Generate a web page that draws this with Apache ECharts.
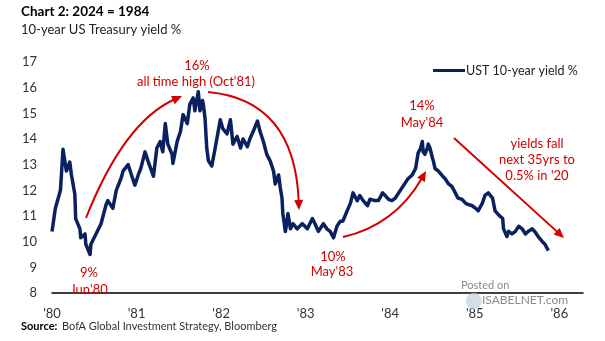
<!DOCTYPE html>
<html>
<head>
<meta charset="utf-8">
<script src="https://cdn.jsdelivr.net/npm/echarts@6/dist/echarts.min.js"></script>
<style>
  html, body { margin: 0; padding: 0; background: #fff; }
  #chart { width: 605px; height: 341px; }
</style>
</head>
<body>
<div id="chart"></div>
<script>
// 10-year US Treasury yield, 1980 to late 1985 (time as fractional years)
const years = [
  1980.00, 1980.04, 1980.10, 1980.13, 1980.17, 1980.21, 1980.23, 1980.27, 1980.28, 1980.33,
  1980.34, 1980.39, 1980.40, 1980.45, 1980.46, 1980.52, 1980.58, 1980.64, 1980.66, 1980.72,
  1980.76, 1980.82, 1980.84, 1980.90, 1980.94, 1980.98, 1981.02, 1981.05, 1981.10, 1981.14,
  1981.20, 1981.24, 1981.28, 1981.31, 1981.34, 1981.37, 1981.42, 1981.43, 1981.48, 1981.52,
  1981.55, 1981.60, 1981.63, 1981.67, 1981.69, 1981.73, 1981.75, 1981.78, 1981.79, 1981.81,
  1981.83, 1981.85, 1981.89, 1981.93, 1981.99, 1982.02, 1982.07, 1982.11, 1982.14, 1982.19,
  1982.23, 1982.26, 1982.31, 1982.34, 1982.38, 1982.43, 1982.46, 1982.50, 1982.54, 1982.58,
  1982.62, 1982.64, 1982.68, 1982.70, 1982.72, 1982.73, 1982.76, 1982.78, 1982.79, 1982.82,
  1982.85, 1982.90, 1982.96, 1983.02, 1983.08, 1983.11, 1983.15, 1983.21, 1983.25, 1983.29,
  1983.33, 1983.37, 1983.41, 1983.44, 1983.49, 1983.53, 1983.56, 1983.61, 1983.64, 1983.68,
  1983.73, 1983.76, 1983.82, 1983.86, 1983.91, 1983.94, 1983.98, 1984.02, 1984.06, 1984.10,
  1984.14, 1984.18, 1984.21, 1984.26, 1984.30, 1984.32, 1984.33, 1984.36, 1984.38, 1984.39,
  1984.41, 1984.44, 1984.45, 1984.47, 1984.50, 1984.51, 1984.53, 1984.57, 1984.62, 1984.65,
  1984.69, 1984.73, 1984.77, 1984.80, 1984.85, 1984.89, 1984.92, 1984.97, 1985.01, 1985.04,
  1985.09, 1985.12, 1985.16, 1985.21, 1985.24, 1985.28, 1985.33, 1985.34, 1985.38, 1985.40,
  1985.44, 1985.48, 1985.52, 1985.56, 1985.60, 1985.63, 1985.68, 1985.72, 1985.75, 1985.80,
  1985.83, 1985.87
];
const yields = [
  10.40, 11.30, 12.00, 13.60, 12.75, 13.10, 12.60, 11.85, 10.90, 10.50,
  10.15, 10.30, 9.90, 9.50, 9.90, 10.30, 10.70, 11.45, 11.60, 11.30,
  12.00, 12.50, 12.75, 13.00, 12.60, 12.20, 12.60, 12.85, 13.50, 13.10,
  12.55, 13.65, 13.90, 13.50, 14.60, 13.80, 13.40, 13.05, 13.90, 14.30,
  14.95, 14.60, 15.35, 15.60, 15.10, 15.84, 15.10, 15.50, 15.35, 14.80,
  13.65, 13.15, 12.95, 13.65, 14.75, 14.40, 14.20, 14.75, 13.80, 14.10,
  13.65, 14.00, 13.70, 14.00, 14.30, 14.70, 14.30, 13.90, 13.40, 13.15,
  12.75, 12.25, 12.60, 12.10, 11.70, 11.10, 10.40, 10.80, 11.10, 10.50,
  10.70, 10.50, 10.70, 10.50, 10.90, 10.70, 10.40, 10.70, 10.50, 10.40,
  10.15, 10.60, 10.80, 10.80, 11.20, 11.50, 11.90, 11.60, 11.80, 11.60,
  11.40, 11.65, 11.60, 11.60, 11.90, 11.80, 11.65, 11.60, 11.70, 11.90,
  12.10, 12.30, 12.45, 12.60, 12.85, 13.25, 13.45, 13.65, 13.90, 13.50,
  13.40, 13.65, 13.80, 13.65, 13.25, 13.15, 12.85, 12.75, 12.55, 12.45,
  12.25, 12.15, 11.90, 11.70, 11.65, 11.50, 11.45, 11.40, 11.30, 11.20,
  11.50, 11.80, 11.90, 11.70, 11.20, 11.05, 10.90, 10.50, 10.20, 10.40,
  10.30, 10.40, 10.60, 10.50, 10.30, 10.40, 10.50, 10.35, 10.20, 10.00,
  9.90, 9.65
];
const seriesName = 'UST 10-year yield %';
const yMin = 8, yMax = 17;
const xMin = 1980, xMax = 1986.28;

const NAVY = '#0a2061';
const RED = '#d40000';
const FONT = 'Lato, "Open Sans", sans-serif';

const chart = echarts.init(document.getElementById('chart'), null, { renderer: 'canvas' });

// quadratic curve with a filled head at its end point
function arrow(p0, c, p2) {
  const dx = p2[0] - c[0], dy = p2[1] - c[1];
  const len = Math.hypot(dx, dy);
  const ux = dx / len, uy = dy / len;
  const L = 10, W = 4.5;
  const bx = p2[0] - ux * L, by = p2[1] - uy * L;
  return [
    {
      type: 'bezierCurve', z: 50,
      shape: { x1: p0[0], y1: p0[1], cpx1: c[0], cpy1: c[1], x2: bx + ux * 2, y2: by + uy * 2 },
      style: { stroke: RED, lineWidth: 2, fill: null }
    },
    {
      type: 'polygon', z: 50,
      shape: { points: [p2, [bx - uy * W, by + ux * W], [bx + uy * W, by - ux * W]] },
      style: { fill: RED }
    }
  ];
}

function label(text, x, y, opts) {
  return {
    type: 'text', z: 60, x: x, y: y,
    style: Object.assign({
      text: text, fill: RED, font: '13px ' + FONT,
      textAlign: 'center', textVerticalAlign: 'middle'
    }, opts || {})
  };
}

const graphics = [].concat(
  arrow([86, 218], [124, 122], [182, 96]),
  arrow([208, 92], [295, 100], [299, 210]),
  arrow([343, 237], [395, 225], [426, 171]),
  arrow([454, 138], [509, 188], [564, 238]),
  [
    label('16%', 197, 66),
    label("all time high (Oct'81)", 196, 82),
    label('9%', 89, 273),
    label("Jun'80", 89, 290),
    label('10%', 333, 257),
    label("May'83", 332, 272),
    label('14%', 422, 106),
    label("May'84", 422, 123),
    label('yields fall', 537, 144),
    label('next 35yrs to', 537, 160),
    label("0.5% in '20", 537, 176),
    // heading
    { type: 'text', left: 21, top: 5, z: 60,
      style: { text: 'Chart 2: 2024 = 1984', fill: '#000', font: 'bold 13.5px ' + FONT } },
    { type: 'text', left: 21, top: 23, z: 60,
      style: { text: '10-year US Treasury yield %', fill: '#222', font: '13px ' + FONT } },
    // source line
    { type: 'text', left: 21, top: 321, z: 60,
      style: { text: 'Source:', fill: '#000', font: 'bold 11px ' + FONT } },
    { type: 'text', left: 62, top: 321, z: 60,
      style: { text: 'BofA Global Investment Strategy, Bloomberg', fill: '#333', font: '11px ' + FONT } },
    // watermark
    { type: 'text', left: 461, top: 280, z: 40,
      style: { text: 'Posted on', fill: '#8a8a8a', font: '11px ' + FONT } },
    { type: 'circle', z: 40, shape: { cx: 474, cy: 301, r: 8 },
      style: { fill: '#c9d6e3', opacity: 0.8 } },
    { type: 'text', left: 482, top: 294, z: 40,
      style: { text: 'ISABELNET.com', fill: '#8a8a8a', font: '12px ' + FONT } }
  ]
);

const option = {
  animation: false,
  backgroundColor: '#fff',
  grid: { left: 52, right: 22, top: 62, bottom: 48, containLabel: false },
  legend: {
    left: 428, top: 59,
    itemWidth: 32, itemHeight: 3, itemGap: 0,
    icon: 'rect',
    textStyle: { fontFamily: FONT, fontSize: 12.5, color: '#222', padding: [0, 0, 0, -4] },
    data: [seriesName]
  },
  xAxis: {
    type: 'value', min: xMin, max: xMax, interval: 1,
    axisLine: { show: true, lineStyle: { color: '#000', width: 1.5 } },
    axisTick: { show: false },
    splitLine: { show: false },
    axisLabel: {
      margin: 14, color: '#333', fontFamily: FONT, fontSize: 13,
      formatter: v => "'" + String(Math.round(v)).slice(2),
      showMaxLabel: false
    }
  },
  yAxis: {
    type: 'value', min: yMin, max: yMax, interval: 1,
    axisLine: { show: false },
    axisTick: { show: false },
    splitLine: { show: false },
    axisLabel: { margin: 15, color: '#333', fontFamily: FONT, fontSize: 13 }
  },
  series: [{
    name: seriesName,
    type: 'line',
    data: years.map((t, i) => [t, yields[i]]),
    showSymbol: false,
    lineStyle: { color: NAVY, width: 3.5, join: 'round' },
    itemStyle: { color: NAVY },
    z: 10
  }],
  graphic: graphics
};

chart.setOption(option);
</script>
</body>
</html>
